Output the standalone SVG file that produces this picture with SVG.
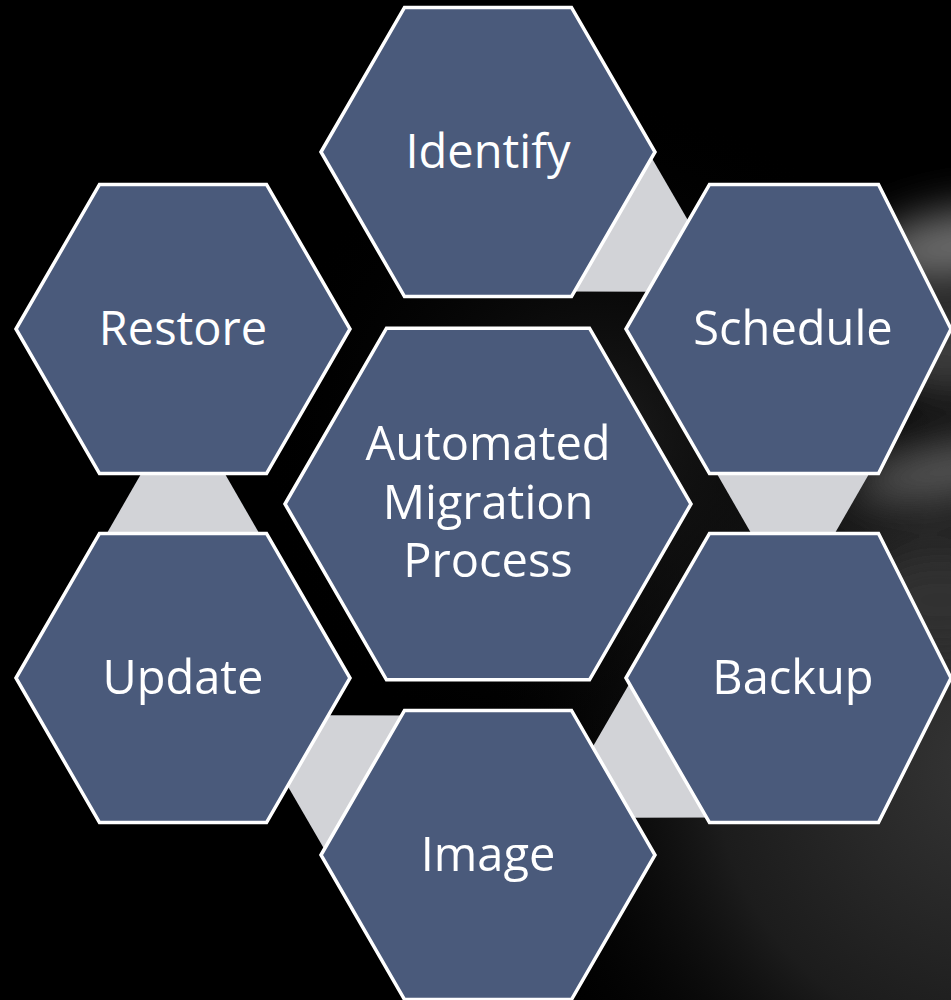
<svg xmlns="http://www.w3.org/2000/svg" width="951" height="1000" viewBox="0 0 951 1000">
  <defs>
    <style>
      .hex { fill: #4a5a7b; stroke: #ffffff; stroke-width: 3.5; stroke-linejoin: miter; }
      .link { fill: #d2d3d7; }
      .label { font-family: "Open Sans", "Noto Sans", "Liberation Sans", sans-serif; font-size: 47px; fill: #ffffff; text-anchor: middle; }
    </style>
    <!-- backdrop shading -->
    <radialGradient id="glowLow" cx="1000" cy="760" r="520" gradientUnits="userSpaceOnUse">
      <stop offset="0" stop-color="#363636"/>
      <stop offset="0.55" stop-color="#1c1c1c"/>
      <stop offset="1" stop-color="#000000" stop-opacity="0"/>
    </radialGradient>
    <radialGradient id="glowMid" cx="600" cy="440" r="340" gradientUnits="userSpaceOnUse">
      <stop offset="0" stop-color="#1e1e1e"/>
      <stop offset="1" stop-color="#000000" stop-opacity="0"/>
    </radialGradient>
    <filter id="soft" x="-50%" y="-50%" width="200%" height="200%">
      <feGaussianBlur stdDeviation="22"/>
    </filter>
    <!-- regular hexagons, pointed left and right -->
    <polygon id="hexSmall" points="-167,0 -83.5,-144.6 83.5,-144.6 167,0 83.5,144.6 -83.5,144.6"/>
    <!-- right-column variant, tip held at the page edge -->
    <polygon id="hexEdge" points="-167,0 -83.5,-144.6 85.5,-144.6 158,0 85.5,144.6 -83.5,144.6"/>
    <polygon id="hexLarge" points="-203,0 -101.5,-175.8 101.5,-175.8 203,0 101.5,175.8 -101.5,175.8"/>
    <!-- tapered link; wide end at the source node (local -y) -->
    <polygon id="linkShape" points="-82,-40 82,-40 36,40 -36,40"/>
  </defs>

  <!-- background -->
  <rect x="0" y="0" width="951" height="1000" fill="#000000"/>
  <rect x="0" y="0" width="951" height="1000" fill="url(#glowLow)"/>
  <rect x="0" y="0" width="951" height="1000" fill="url(#glowMid)"/>
  <g filter="url(#soft)">
    <ellipse cx="965" cy="245" rx="100" ry="35" fill="#6e6e6e" transform="rotate(-8 965 245)"/>
    <ellipse cx="950" cy="350" rx="70" ry="45" fill="#3c3c3c"/>
    <ellipse cx="950" cy="470" rx="100" ry="24" fill="#5c5c5c" transform="rotate(-10 950 470)"/>
    <ellipse cx="940" cy="600" rx="80" ry="50" fill="#323232"/>
  </g>

  <!-- connectors -->
  <g id="connectors">
    <use href="#linkShape" class="link" transform="translate(640.5 240.5) rotate(-60)"/>
    <use href="#linkShape" class="link" transform="translate(793 503.5)"/>
    <use href="#linkShape" class="link" transform="translate(640.5 766.5) rotate(60)"/>
    <use href="#linkShape" class="link" transform="translate(335.5 766.5) rotate(120)"/>
    <use href="#linkShape" class="link" transform="translate(183 503.5) rotate(180)"/>
  </g>

  <!-- nodes -->
  <g id="node-identify">
    <use href="#hexSmall" class="hex" transform="translate(488 152)"/>
    <text class="label" x="488" y="168">Identify</text>
  </g>
  <g id="node-schedule">
    <use href="#hexEdge" class="hex" transform="translate(793 329)"/>
    <text class="label" x="793" y="345">Schedule</text>
  </g>
  <g id="node-backup">
    <use href="#hexEdge" class="hex" transform="translate(793 678)"/>
    <text class="label" x="793" y="694">Backup</text>
  </g>
  <g id="node-image">
    <use href="#hexSmall" class="hex" transform="translate(488 855)"/>
    <text class="label" x="488" y="871">Image</text>
  </g>
  <g id="node-update">
    <use href="#hexSmall" class="hex" transform="translate(183 678)"/>
    <text class="label" x="183" y="694">Update</text>
  </g>
  <g id="node-restore">
    <use href="#hexSmall" class="hex" transform="translate(183 329)"/>
    <text class="label" x="183" y="345">Restore</text>
  </g>
  <g id="node-center">
    <use href="#hexLarge" class="hex" transform="translate(488 504)"/>
    <text class="label" x="488" y="460">Automated</text>
    <text class="label" x="488" y="519">Migration</text>
    <text class="label" x="488" y="577">Process</text>
  </g>
</svg>
